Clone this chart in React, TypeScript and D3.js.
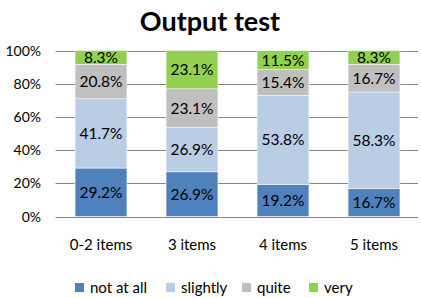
import React from "react";
import * as d3 from "d3";

const categories = ["0-2 items", "3 items", "4 items", "5 items"];
const seriesNames = ["not at all", "slightly", "quite", "very"];
const notAtAll = [29.2, 26.9, 19.2, 16.7];
const slightly = [41.7, 26.9, 53.8, 58.3];
const quite = [20.8, 23.1, 15.4, 16.7];
const very = [8.3, 23.1, 11.5, 8.3];
const yTicks = [0, 20, 40, 60, 80, 100];
const colors = ["#4F81BD", "#B9CDE5", "#BFBFBF", "#92D050"];

const W = 421, H = 298;
const FONT = "Lato, 'Open Sans', sans-serif";

export default function App() {
  const series = [notAtAll, slightly, quite, very];
  const rows = categories.map((c, i) => {
    const r: any = { cat: c };
    seriesNames.forEach((s, j) => (r[s] = series[j][i]));
    return r;
  });
  const stacked = d3.stack<any>().keys(seriesNames)(rows);
  const x = d3.scaleBand().domain(categories).range([55.5, 419.5]).paddingInner(0.43).paddingOuter(0.215);
  const y = d3.scaleLinear().domain([0, 100]).range([216.5, 50.5]);

  const legendX = [75, 166, 242, 309];

  return (
    <svg width={W} height={H} style={{ position: "absolute", left: 0, top: 0, background: "#fff" }} fontFamily={FONT}>
      <text x={210} y={31} textAnchor="middle" fontSize={27} fontWeight="bold" fill="#000">Output test</text>
      {yTicks.map((t) => (
        <g key={t}>
          <line x1={55.5} x2={418} y1={Math.round(y(t)) + 0.5} y2={Math.round(y(t)) + 0.5} stroke="#868686" strokeWidth={1} />
          <text x={41} y={y(t) + 5} textAnchor="end" fontSize={14} fill="#000">{t}%</text>
        </g>
      ))}
      {stacked.map((layer, j) => (
        <g key={layer.key}>
          {layer.map((d, i) => {
            const x0 = x(categories[i])!;
            const y0 = y(d[1]);
            const h = y(d[0]) - y(d[1]);
            return (
              <g key={i}>
                <rect x={x0} y={y0} width={x.bandwidth()} height={h} fill={colors[j]} stroke="#fff" strokeWidth={0.5} />
                <text x={x0 + x.bandwidth() / 2} y={y0 + h / 2 + 5.5} textAnchor="middle" fontSize={15.5} fill="#000">
                  {series[j][i].toFixed(1)}%
                </text>
              </g>
            );
          })}
        </g>
      ))}
      {categories.map((c) => (
        <text key={c} x={x(c)! + x.bandwidth() / 2} y={250} textAnchor="middle" fontSize={15} fill="#000">{c}</text>
      ))}
      {seriesNames.map((s, j) => (
        <g key={s}>
          <rect x={legendX[j]} y={283} width={9} height={9} fill={colors[j]} />
          <text x={legendX[j] + 15} y={292.5} fontSize={15} fill="#000">{s}</text>
        </g>
      ))}
    </svg>
  );
}
